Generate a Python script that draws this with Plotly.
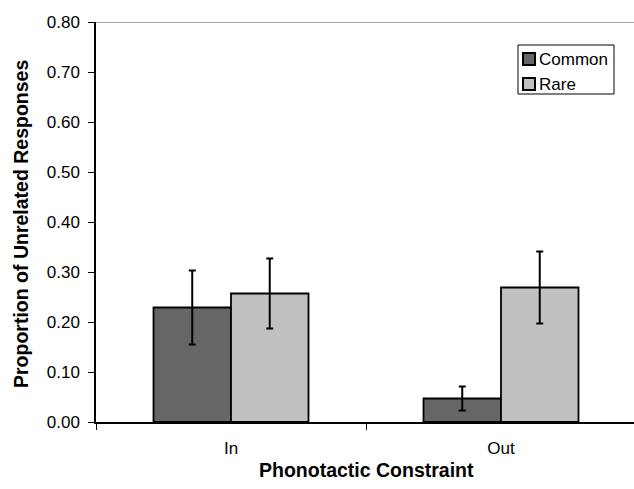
import plotly.graph_objects as go

categories = ["In", "Out"]
common_vals = [0.229, 0.047]
common_err = [0.074, 0.024]
rare_vals = [0.257, 0.269]
rare_err = [0.070, 0.072]
y_ticks = [0.0, 0.1, 0.2, 0.3, 0.4, 0.5, 0.6, 0.7, 0.8]
y_tick_text = ["0.00", "0.10", "0.20", "0.30", "0.40", "0.50", "0.60", "0.70", "0.80"]
series_names = ["Common", "Rare"]
series_colors = ["#666666", "#c0c0c0"]

FONT = "Liberation Sans, Arial, sans-serif"
W, H = 634, 489
ML, MR, MT, MB = 96, 0, 22, 67
PW, PH = W - ML - MR, H - MT - MB


def px_x(px):
    return (px - ML) / PW


def px_y(py):
    return (H - MB - py) / PH


fig = go.Figure()
for name, vals, errs, col in [(series_names[0], common_vals, common_err, series_colors[0]),
                              (series_names[1], rare_vals, rare_err, series_colors[1])]:
    fig.add_trace(go.Bar(
        name=name, x=categories, y=vals, showlegend=False,
        marker=dict(color=col, line=dict(color="black", width=1.8)),
        error_y=dict(type="data", array=errs, color="black", thickness=2, width=3.5),
    ))

fig.update_layout(
    width=W, height=H,
    margin=dict(l=ML, r=MR, t=MT, b=MB),
    paper_bgcolor="white", plot_bgcolor="white",
    barmode="group", bargap=0.426, bargroupgap=0,
    font=dict(family=FONT, size=17, color="black"),
    showlegend=False,
    xaxis=dict(
        range=[-0.5, 1.4926], showline=True, linecolor="black", linewidth=1.5,
        ticks="outside", tickson="boundaries", ticklen=6, tickcolor="black",
        ticklabelstandoff=10, showgrid=False, automargin=False,
    ),
    yaxis=dict(
        range=[0, 0.8], tickvals=y_ticks, ticktext=y_tick_text,
        showline=True, linecolor="black", linewidth=1.5,
        ticks="outside", ticklen=6, tickcolor="black", showgrid=False,
        zeroline=False, ticklabelstandoff=5, automargin=False,
    ),
)
# top border (gray)
fig.add_shape(type="line", xref="paper", yref="y", x0=0, x1=1, y0=0.8, y1=0.8,
              line=dict(color="#8c8c8c", width=1.5))

# axis titles
fig.add_annotation(text="<b>Phonotactic Constraint</b>", xref="paper", yref="paper",
                   x=px_x(366), y=px_y(470), showarrow=False,
                   xanchor="center", yanchor="middle", font=dict(size=19.5))
fig.add_annotation(text="<b>Proportion of Unrelated Responses</b>", xref="paper", yref="paper",
                   x=px_x(21), y=px_y(224), showarrow=False, textangle=-90,
                   xanchor="center", yanchor="middle", font=dict(size=19.5))

# legend box
fig.add_shape(type="rect", xref="paper", yref="paper",
              x0=px_x(518), x1=px_x(614), y0=px_y(94), y1=px_y(45),
              line=dict(color="black", width=1), fillcolor="white")
for i, (name, col) in enumerate(zip(series_names, series_colors)):
    cy = 59 + i * 25
    fig.add_shape(type="rect", xref="paper", yref="paper",
                  x0=px_x(523), x1=px_x(535), y0=px_y(cy + 6), y1=px_y(cy - 6),
                  line=dict(color="black", width=2), fillcolor=col)
    fig.add_annotation(text=name, xref="paper", yref="paper",
                       x=px_x(537), y=px_y(cy), showarrow=False,
                       xanchor="left", yanchor="middle", font=dict(size=17))

fig.write_html("out.html", post_script="document.body.style.margin='0';",
               config={"displayModeBar": False})
